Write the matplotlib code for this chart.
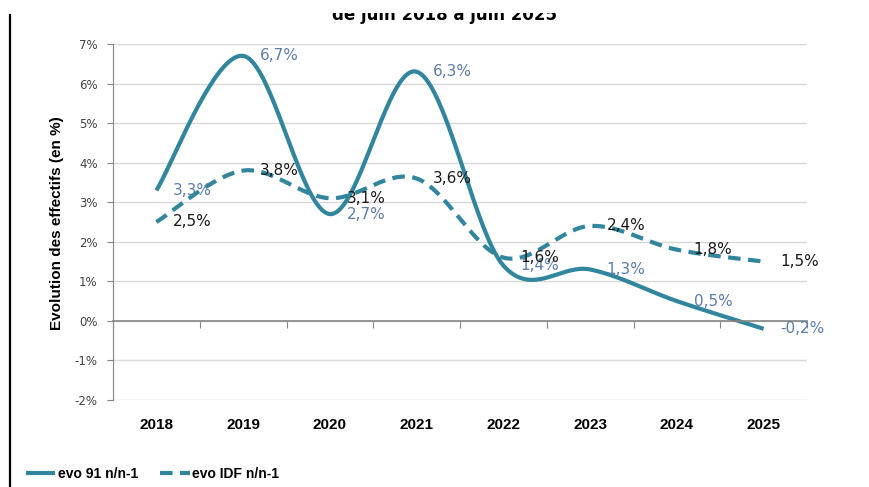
import numpy as np
import matplotlib
matplotlib.use('Agg')
import matplotlib.pyplot as plt
from matplotlib.lines import Line2D
from matplotlib.patches import Rectangle
from matplotlib.ticker import FuncFormatter, FixedLocator

years = ['2018', '2019', '2020', '2021', '2022', '2023', '2024', '2025']
evo_91 = [3.3, 6.7, 2.7, 6.3, 1.4, 1.3, 0.5, -0.2]
evo_idf = [2.5, 3.8, 3.1, 3.6, 1.6, 2.4, 1.8, 1.5]
labels_91 = ['3,3%', '6,7%', '2,7%', '6,3%', '1,4%', '1,3%', '0,5%', '-0,2%']
labels_idf = ['2,5%', '3,8%', '3,1%', '3,6%', '1,6%', '2,4%', '1,8%', '1,5%']

line_color = '#31859C'
label_blue = '#5B7DA8'
narrow = ['Liberation Sans', 'DejaVu Sans']


# excel-like smoothed line (catmull-rom through the points)
def smooth(x, y, n=40):
    x = np.asarray(x, float)
    y = np.asarray(y, float)
    xs, ys = [], []
    for i in range(len(x) - 1):
        i0 = max(i - 1, 0)
        i3 = min(i + 2, len(x) - 1)
        c1x = x[i] + (x[i + 1] - x[i0]) / 6
        c1y = y[i] + (y[i + 1] - y[i0]) / 6
        c2x = x[i + 1] - (x[i3] - x[i]) / 6
        c2y = y[i + 1] - (y[i3] - y[i]) / 6
        t = np.linspace(0, 1, n)
        b0 = (1 - t) ** 3
        b1 = 3 * (1 - t) ** 2 * t
        b2 = 3 * (1 - t) * t ** 2
        b3 = t ** 3
        xs.append(b0 * x[i] + b1 * c1x + b2 * c2x + b3 * x[i + 1])
        ys.append(b0 * y[i] + b1 * c1y + b2 * c2y + b3 * y[i + 1])
    return np.concatenate(xs), np.concatenate(ys)


fig = plt.figure(figsize=(8.69, 4.87), dpi=100)
ax = fig.add_axes([113 / 869, 1 - 400 / 487, 694 / 869, 356 / 487])

pos = np.arange(len(years))
sx, sy = smooth(pos, evo_91)
ax.plot(sx, sy, color=line_color, lw=3, solid_capstyle='butt', label='evo 91 n/n-1')
dx, dy = smooth(pos, evo_idf)
ax.plot(dx, dy, color=line_color, lw=3, linestyle=(0, (3.0, 1.8)), label='evo IDF n/n-1')

for i in range(len(years)):
    ax.annotate(labels_91[i], (pos[i], evo_91[i]), xytext=(12, 0), textcoords='offset points',
                ha='left', va='center', fontsize=11, color=label_blue)
    ax.annotate(labels_idf[i], (pos[i], evo_idf[i]), xytext=(12, 0), textcoords='offset points',
                ha='left', va='center', fontsize=11, color='#1a1a1a')

ax.set_xlim(-0.5, len(years) - 0.5)
ax.set_ylim(-2, 7)
ax.set_yticks(range(-2, 8))
ax.yaxis.set_major_formatter(FuncFormatter(lambda v, p: f'{int(v)}%'))
ax.tick_params(axis='y', labelsize=8.5, labelcolor='#404040', length=4, color='#868686', pad=7)
ax.grid(axis='y', color='#D9D9D9', lw=1)
ax.set_axisbelow(True)

for s in ['top', 'right']:
    ax.spines[s].set_visible(False)
ax.spines['left'].set_color('#868686')
ax.spines['bottom'].set_position(('data', 0))
ax.spines['bottom'].set_color('#868686')
ax.spines['bottom'].set_linewidth(1.2)
ax.xaxis.set_major_locator(FixedLocator(np.arange(-0.5, len(years), 1.0)))
ax.tick_params(axis='x', length=5, color='#868686', labelbottom=False)

# category labels at the bottom of the plot
sec = ax.secondary_xaxis(0)
sec.set_xticks(pos)
sec.set_xticklabels(years)
sec.spines['bottom'].set_visible(False)
sec.tick_params(length=0, pad=13)
for t in sec.get_xticklabels():
    t.set_family(narrow)
    t.set_fontweight('bold')
    t.set_fontsize(11)

fig.text(57 / 869, 1 - 223 / 487, 'Evolution des effectifs (en %)', rotation=90,
         ha='center', va='center', fontsize=11, fontweight='bold', family=narrow)
fig.text(445 / 869, 1 - 20 / 487, 'de juin 2018 à juin 2025', ha='center', va='baseline',
         fontsize=12, fontweight='bold')

fig.legend(loc='center left', bbox_to_anchor=(26 / 869, 1 - 474 / 487), ncol=2, frameon=False,
           handlelength=2.1, handletextpad=0.2, columnspacing=1.6, borderpad=0, borderaxespad=0,
           prop={'family': narrow, 'weight': 'bold', 'size': 10})

# top of the screenshot is cut off
fig.add_artist(Rectangle((0, 1 - 13 / 487), 1, 13 / 487, transform=fig.transFigure,
                         facecolor='white', edgecolor='none', zorder=10))
fig.add_artist(Line2D([10 / 869, 10 / 869], [0, 1 - 15 / 487], color='black', lw=1.6,
                      transform=fig.transFigure))

fig.savefig('out.png', dpi=100)
